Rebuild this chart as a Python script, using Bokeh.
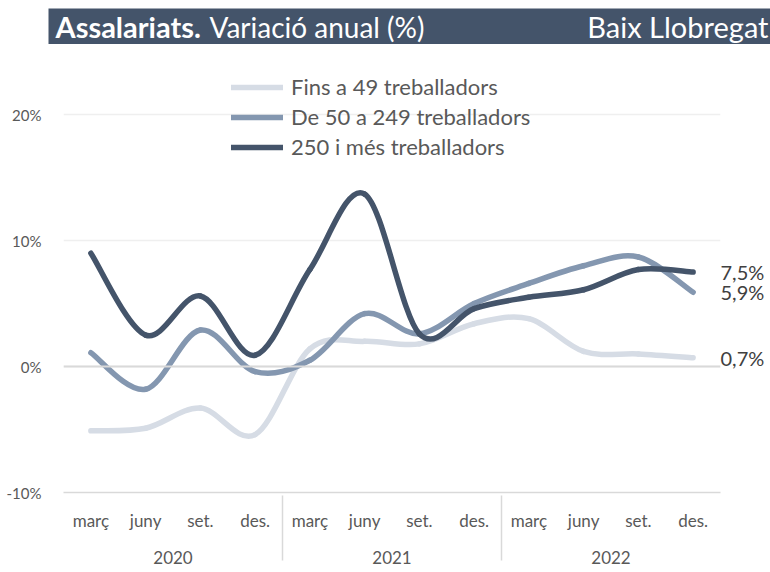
from bokeh.plotting import figure
from bokeh.layouts import column
from bokeh.models import (FactorRange, FixedTicker, PrintfTickFormatter, Span, LinearAxis,
                          Legend, LegendItem, ColumnDataSource, CustomJSTickFormatter)
from bokeh.core.properties import value
from bokeh.embed import file_html
from bokeh.resources import INLINE

years = ["2020", "2021", "2022"]
months = ["març", "juny", "set.", "des."]
series_names = ["Fins a 49 treballadors", "De 50 a 249 treballadors", "250 i més treballadors"]
fins49 = [-5.1, -4.9, -3.3, -5.4, 1.4, 2.0, 1.8, 3.4, 3.8, 1.2, 1.0, 0.7]
de50 = [1.1, -1.8, 2.9, -0.4, 0.5, 4.2, 2.6, 5.0, 6.6, 8.0, 8.7, 5.9]
mes250 = [9.0, 2.5, 5.6, 0.9, 7.7, 13.7, 2.6, 4.6, 5.5, 6.1, 7.7, 7.5]
y_ticks = [-10, 0, 10, 20]
title_bold = "Assalariats."
title_rest = "Variació anual (%)"
region = "Baix Llobregat"

colors = ["#d6dce5", "#8497b0", "#44546a"]
FONT = "Lato"
TXT = "#595959"
W = 770

# ---------------- title bar ----------------
t = figure(width=W, height=44, output_backend="svg", toolbar_location=None,
           x_range=(0, W), y_range=(44, 0), min_border=0,
           x_axis_location=None, y_axis_location=None)
t.frame_align = False
t.grid.visible = False
t.outline_line_color = None
t.quad(left=[48], right=[W], top=[8], bottom=[44], fill_color="#44546a", line_color=None)
t.text(x=[55], y=[26], text=[title_bold], text_font=value(FONT), text_font_style="bold",
       text_font_size="29px", text_color="white", text_baseline="middle")
t.text(x=[209], y=[26], text=[title_rest], text_font=value(FONT),
       text_font_size="28px", text_color="white", text_baseline="middle")
t.text(x=[768], y=[26], text=[region], text_font=value(FONT), text_align="right",
       text_font_size="29px", text_color="white", text_baseline="middle")

# ---------------- main chart ----------------
factors = [(y, m) for y in years for m in months]

FW, FH = 657, 432
p = figure(frame_width=FW, frame_height=FH, output_backend="svg", toolbar_location=None,
           x_range=FactorRange(*factors, group_padding=0, range_padding=0),
           y_range=(-10, 24.3),
           min_border_left=63, min_border_right=50, min_border_top=16, min_border_bottom=78)
p.frame_align = False
p.outline_line_color = None
p.background_fill_color = "white"

yl = p.yaxis[0]
yl.ticker = FixedTicker(ticks=y_ticks)
yl.formatter = PrintfTickFormatter(format="%d%%")
yl.axis_line_color = None
yl.major_tick_line_color = None
yl.minor_tick_line_color = None
yl.major_label_text_font = FONT
yl.major_label_text_font_size = "15px"
yl.major_label_text_color = TXT
yl.major_label_standoff = 16

p.xaxis.axis_line_color = "#d9d9d9"
p.xaxis.axis_line_width = 1.5
p.xaxis.major_tick_line_color = None
p.xaxis.major_tick_out = 0
p.xaxis.major_tick_in = 0
p.xaxis.major_label_text_font = FONT
p.xaxis.major_label_text_font_size = "17px"
p.xaxis.major_label_text_color = TXT
p.xaxis.group_text_font = FONT
p.xaxis.group_text_font_size = "17px"
p.xaxis.group_text_color = TXT
p.xaxis.group_text_font_style = "normal"
p.xaxis.major_label_standoff = 17
p.xaxis.separator_line_color = "#d9d9d9"
p.xaxis.separator_line_width = 1.5

p.xgrid.grid_line_color = None
p.ygrid.grid_line_color = "#efefef"
p.ygrid.grid_line_width = 1.5
p.add_layout(Span(location=0, dimension="width", line_color="#d9d9d9", line_width=2))

# smooth curves (Catmull-Rom -> cubic Bezier through the data points)
renderers = []
for vals, col, name in zip([fins49, de50, mes250], colors, series_names):
    n = len(vals)
    x0, y0, x1, y1, cx0, cy0, cx1, cy1 = [], [], [], [], [], [], [], []
    for i in range(n - 1):
        pm = vals[i - 1] if i > 0 else vals[i]
        pn = vals[i + 2] if i + 2 < n else vals[i + 1]
        dxa = 1 / 3 if i > 0 else 1 / 6
        dxb = 1 / 3 if i + 2 < n else 1 / 6
        x0.append(factors[i]); y0.append(vals[i])
        x1.append(factors[i + 1]); y1.append(vals[i + 1])
        cx0.append(factors[i] + (dxa,))
        cy0.append(vals[i] + (vals[i + 1] - pm) / 6)
        cx1.append(factors[i + 1] + (-dxb,))
        cy1.append(vals[i + 1] - (pn - vals[i]) / 6)
    src = ColumnDataSource(dict(x0=x0, y0=y0, x1=x1, y1=y1, cx0=cx0, cy0=cy0, cx1=cx1, cy1=cy1))
    r = p.bezier(x0="x0", y0="y0", x1="x1", y1="y1", cx0="cx0", cy0="cy0", cx1="cx1", cy1="cy1",
                 source=src, line_color=col, line_width=5.5, line_cap="round", line_join="round")
    renderers.append((name, r))

legend = Legend(items=[LegendItem(label=n, renderers=[r]) for n, r in renderers],
                location=(168, 332), orientation="vertical",
                glyph_width=52, glyph_height=22, spacing=3, padding=0, margin=0,
                label_standoff=8, label_text_font=FONT, label_text_font_size="22px",
                label_text_color=TXT, border_line_color=None, background_fill_alpha=0)
p.add_layout(legend)

# end-of-series values shown on a right-hand axis
end_vals = [fins49[-1], de50[-1], mes250[-1]]
ra = LinearAxis(ticker=FixedTicker(ticks=end_vals),
                formatter=CustomJSTickFormatter(code="return tick.toFixed(1).replace('.', ',') + '%';"))
ra.axis_line_color = None
ra.major_tick_line_color = None
ra.minor_tick_line_color = None
ra.major_tick_out = 0
ra.major_tick_in = 0
ra.major_label_standoff = 0
ra.major_label_text_font = FONT
ra.major_label_text_font_size = "20px"
ra.major_label_text_color = "#404040"
p.add_layout(ra, "right")

open("out.html", "w").write(file_html(column(t, p, spacing=0), INLINE))
